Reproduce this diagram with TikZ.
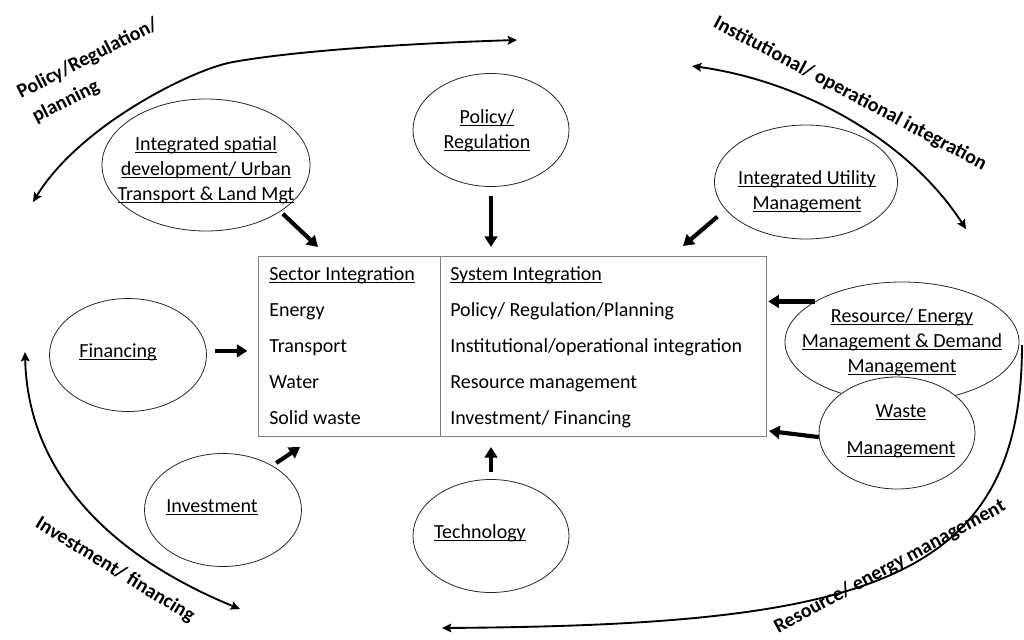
\documentclass[tikz,border=0pt]{standalone}
\usepackage{fontspec}
\setmainfont{Carlito}
\usetikzlibrary{shapes.geometric,arrows.meta,calc}
% underline set at a fixed depth below the baseline
\newcommand{\undl}[1]{\setbox0=\hbox{#1}\rlap{\rule[-2pt]{\wd0}{0.7pt}}\box0}
\begin{document}
\fontsize{15}{18.75}\selectfont
\begin{tikzpicture}[x=0.75pt,y=-0.75pt,
  esize/.style 2 args={minimum width=#1*0.75pt, minimum height=#2*0.75pt},
  blob/.style={draw=black!85, line width=0.6pt, ellipse, inner sep=0pt},
  txt/.style={align=center, inner sep=0pt},
  lbl/.style={font=\bfseries, inner sep=0pt},
  cell/.style={anchor=base west, inner sep=0pt},
  frame/.style={draw=black!50, line width=0.6pt},
  heavy/.style={line width=3.1pt, -{Triangle[length=8pt,width=9.5pt]}},
  cycle arrow/.style={line width=1.4pt, {Stealth[length=7pt,width=6.5pt,inset=1.2pt]}-{Stealth[length=7pt,width=6.5pt,inset=1.2pt]}},
  one arrow/.style={line width=1.4pt, -{Stealth[length=7pt,width=6.5pt,inset=1.2pt]}},
]
\useasboundingbox (0,0) rectangle (1024,639);

% central table
\node[frame, minimum width=508*0.75pt, minimum height=180*0.75pt, inner sep=0pt] (box) at (512.5,346) {};
\coordinate (split) at (440,346);
\draw[frame] (split |- box.north) -- (split |- box.south);

\node[cell] (s0) at (269,280) {\undl{Sector Integration}};
\node[cell] (s1) at (269,316) {Energy};
\node[cell] (s2) at (269,352) {Transport};
\node[cell] (s3) at (269,388) {Water};
\node[cell] (s4) at (269,424) {Solid waste};
\node[cell] (y0) at (450,280) {\undl{System Integration}};
\node[cell] (y1) at (450,316) {Policy/ Regulation/Planning};
\node[cell] (y2) at (450,352) {Institutional/operational integration};
\node[cell] (y3) at (450,388) {Resource management};
\node[cell] (y4) at (450,424) {Investment/ Financing};

% surrounding themes
\node[blob, esize={208}{132}] (isd) at (206,165) {};
\node[txt] (isd-t) at (206,170) {\undl{Integrated spatial}\\\undl{development/ Urban}\\\undl{Transport \& Land Mgt}};

\node[blob, esize={156}{113}] (pol) at (491,130) {};
\node[txt] (pol-t) at (487,131) {\undl{Policy/}\\\undl{Regulation}};

\node[blob, esize={183}{114}] (ium) at (806,182) {};
\node[txt] (ium-t) at (807,192) {\undl{Integrated Utility}\\\undl{Management}};

\node[blob, esize={234}{120}] (res) at (902,342) {};
\node[blob, fill=white, esize={156}{112}] (wst) at (897,433) {};
\node[txt] (res-t) at (902,342) {\undl{Resource/ Energy}\\\undl{Management \& Demand}\\\undl{Management}};
\node[txt] (wst-t) at (901,431) {\undl{Waste}\\[9pt]\undl{Management}};

\node[blob, esize={157}{113}] (fin) at (128,355) {};
\node[txt] (fin-t) at (118,352) {\undl{Financing}};

\node[blob, esize={157}{113}] (inv) at (223,510) {};
\node[txt] (inv-t) at (212,507) {\undl{Investment}};

\node[blob, esize={156}{113}] (tec) at (491,536) {};
\node[txt] (tec-t) at (480,533) {\undl{Technology}};

% arrows into the table
\coordinate (isd-tip) at (318,247);
\coordinate (pol-tip) at (491,247);
\coordinate (ium-tip) at (683,246);
\coordinate (wst-tip) at (769,431);
\coordinate (inv-tip) at (300,447);
\coordinate (tec-tip) at (491,447);
\draw[heavy, shorten <=2.5pt] (isd.-32) -- (isd-tip);
\draw[heavy, shorten <=7pt] (pol.south) -- (pol-tip);
\draw[heavy, shorten <=8pt] (ium.-161) -- (ium-tip);
\draw[heavy, shorten >=1pt] (res.155) -- (res.155 -| box.east);
\draw[heavy] (wst.183) -- (wst-tip);
\draw[heavy, shorten <=6.5pt, shorten >=8pt] (fin.3) -- (fin.3 -| box.west);
\draw[heavy, shorten <=3.5pt] (inv.42) -- (inv-tip);
\draw[heavy, shorten <=5.5pt] (tec.north) -- (tec-tip);

% outer cycle of integration themes
\coordinate (plan-a) at (517,40);
\coordinate (plan-b) at (33,202);
\draw[cycle arrow] (plan-a) .. controls (420,43) and (300,50) .. (233,62)
  .. controls (193,69) and (80,125) .. (plan-b);
\node[lbl, rotate=27, anchor=base west] (plan1) at (21,99) {Policy/Regulation/};
\node[lbl, rotate=27, anchor=base west] (plan2) at (36,123) {planning};

\coordinate (ins-a) at (692,66);
\coordinate (ins-b) at (966,229);
\draw[cycle arrow] (ins-a) .. controls (795,80) and (905,135) .. (ins-b);
\node[lbl, rotate=-28] (inst) at (850,94) {Institutional/ operational integration};

\coordinate (fin-a) at (25,352);
\coordinate (fin-b) at (240,609);
\draw[cycle arrow] (fin-a) .. controls (28,480) and (120,560) .. (fin-b);
\node[lbl, rotate=-31.5] (invfin) at (115,570) {Investment/ financing};

\coordinate (ren-a) at (1022,345);
\coordinate (ren-b) at (442,628);
\draw[one arrow] (ren-a) .. controls (1022,585) and (860,625) .. (ren-b);
\node[lbl, rotate=28.5] (resen) at (890,567) {Resource/ energy management};
\end{tikzpicture}
\end{document}
